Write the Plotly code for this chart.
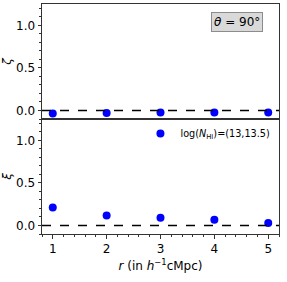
import plotly.graph_objects as go

r_vals = [1, 2, 3, 4, 5]
zeta_vals = [-0.035, -0.03, -0.025, -0.025, -0.025]
zeta_err = [0.01, 0.008, 0.006, 0.006, 0.006]
xi_vals = [0.21, 0.117, 0.09, 0.066, 0.03]
xi_err = [0.012, 0.01, 0.008, 0.008, 0.008]
series_name = "log(<i>N</i><sub>HI</sub>)=(13,13.5)"
y_ticks = [0.0, 0.5, 1.0]
x_ticks = [1, 2, 3, 4, 5]

FONT = "DejaVu Sans"
BLUE = "#0000ff"
LINE = "#333333"
FS = 12

fig = go.Figure()
fig.add_trace(go.Scatter(
    x=r_vals, y=zeta_vals, mode="markers",
    marker=dict(color=BLUE, size=8),
    error_y=dict(type="data", array=zeta_err, color=BLUE, thickness=1.2, width=3),
    xaxis="x", yaxis="y", showlegend=False))
fig.add_trace(go.Scatter(
    x=r_vals, y=xi_vals, mode="markers", name=series_name,
    marker=dict(color=BLUE, size=8),
    error_y=dict(type="data", array=xi_err, color=BLUE, thickness=1.2, width=3),
    xaxis="x2", yaxis="y2", showlegend=True))

for xr, yr in [("x", "y"), ("x2", "y2")]:
    fig.add_shape(type="line", xref=xr + " domain", yref=yr, x0=0, x1=1, y0=0, y1=0,
                  line=dict(color="black", width=1.5, dash="dash"))

axis_common = dict(showline=True, linecolor=LINE, linewidth=1, mirror=True,
                   showgrid=False, zeroline=False, automargin=False)
yaxis_common = dict(axis_common, range=[-0.1, 1.25], tickvals=y_ticks, tickformat=".1f",
                    ticks="outside", ticklen=3.5, tickcolor=LINE,
                    minor=dict(dtick=0.1, tick0=0, ticks="outside", ticklen=2, tickcolor=LINE),
                    tickfont=dict(family=FONT, size=FS, color="black"))

fig.update_layout(
    width=287, height=282,
    margin=dict(l=42, r=8, t=4, b=48, autoexpand=False),
    paper_bgcolor="white", plot_bgcolor="white",
    font=dict(family=FONT, color="black"),
    xaxis=dict(axis_common, domain=[0, 1], range=[0.8, 5.2], anchor="y",
               showticklabels=False, ticks=""),
    yaxis=dict(yaxis_common, domain=[0.5, 1], anchor="x",
               title=dict(text="<i>ζ</i>", font=dict(family=FONT, size=FS), standoff=8)),
    xaxis2=dict(axis_common, domain=[0, 1], range=[0.8, 5.2], anchor="y2",
                tickvals=x_ticks, ticks="outside", ticklen=3.5, tickcolor=LINE,
                minor=dict(dtick=0.2, tick0=0, ticks="outside", ticklen=2, tickcolor=LINE),
                tickfont=dict(family=FONT, size=FS, color="black"),
                title=dict(text="<i>r</i> (in <i>h</i><sup>−1</sup>cMpc)",
                           font=dict(family=FONT, size=FS), standoff=6)),
    yaxis2=dict(yaxis_common, domain=[0, 0.5], anchor="x2",
                title=dict(text="<i>ξ</i>", font=dict(family=FONT, size=FS), standoff=8)),
    legend=dict(x=0.985, y=0.5, xanchor="right", yanchor="top",
                bgcolor="rgba(255,255,255,0)", borderwidth=0,
                font=dict(family=FONT, size=9.7), itemwidth=30, tracegroupgap=0),
    showlegend=True,
    annotations=[dict(text="<i>θ</i> = 90°", xref="paper", yref="paper",
                      x=0.822, y=0.922, xanchor="center", yanchor="middle",
                      showarrow=False, font=dict(family=FONT, size=12, color="black"),
                      bgcolor="#d9d9d9", bordercolor="#8c8c8c", borderwidth=1, borderpad=2)],
)

fig.write_html("out.html", config={"displayModeBar": False},
               post_script="document.body.style.margin='0';document.body.style.overflow='hidden';")
